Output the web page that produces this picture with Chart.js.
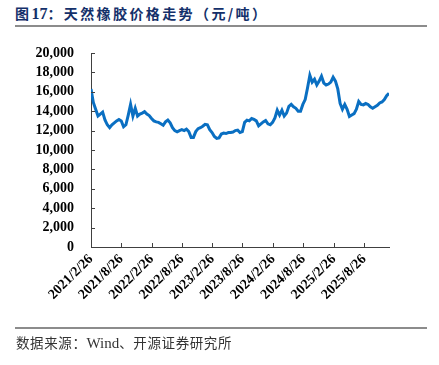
<!DOCTYPE html>
<html><head><meta charset="utf-8">
<script src="https://cdn.jsdelivr.net/npm/chart.js@4"></script>
<style>
html,body{margin:0;padding:0;background:#fff;}
#wrap{position:relative;width:439px;height:365px;overflow:hidden;background:#fff;}
#title{position:absolute;left:15px;top:3px;font-family:"Noto Sans CJK SC";font-weight:bold;font-size:14px;color:#14306a;letter-spacing:2.4px;white-space:nowrap;}
#title .num{font-family:"Liberation Serif";font-size:16px;letter-spacing:0;}
.rule{position:absolute;left:15px;width:412px;height:2px;background:#8c8c8c;}
#src{position:absolute;left:16px;top:332px;font-family:"Noto Sans CJK SC";font-size:13.5px;color:#333;white-space:nowrap;letter-spacing:0.6px;}
#src .lat{font-family:"Liberation Serif";font-size:15px;letter-spacing:0;}
canvas{position:absolute;left:0;top:0;}
</style></head>
<body>
<div id="wrap">
<div id="title">图<span class="num">17</span>：天然橡胶价格走势（元/吨）</div>
<div class="rule" style="top:25px"></div>
<canvas id="c" width="439" height="365"></canvas>
<div class="rule" style="top:327px"></div>
<div id="src">数据来源：<span class="lat">Wind</span>、开源证券研究所</div>
</div>
<script>
const startDate = '2021/2/26';
const stepDays = 14;
const prices = [
16300,14900,14200,13500,13700,13900,13100,12600,12300,12600,
12800,13000,13150,13000,12400,12600,13600,14700,13500,14300,
13500,13700,13800,13950,13700,13550,13250,13000,12900,12850,
12700,12550,12900,13080,12800,12300,12000,11870,12000,12100,
12000,12150,11900,11300,11300,11900,12200,12300,12450,12650,
12600,12100,11800,11400,11200,11250,11650,11750,11700,11800,
11800,11850,12000,12050,11800,11900,12850,13080,13000,13250,
13150,13000,12500,12700,12900,13050,12700,12600,12850,13300,
14100,13600,14100,13500,13800,14500,14700,14450,14300,14000,
14000,14700,15200,16400,17700,17000,17300,16700,17100,17600,
16900,16700,16800,17000,17500,17100,16300,14800,14200,14700,
14200,13450,13600,13750,14200,15000,14700,14650,14800,14700,
14450,14300,14450,14600,14850,14950,15200,15600,15850
];
const tickLabels = ['2021/2/26','2021/8/26','2022/2/26','2022/8/26','2023/2/26','2023/8/26','2024/2/26','2024/8/26','2025/2/26','2025/8/26'];
const yMin = 0, yMax = 20000, yStep = 2000;

function toDays(s){
  const p = s.split('/').map(Number), q = startDate.split('/').map(Number);
  return Math.round((Date.UTC(p[0],p[1]-1,p[2]) - Date.UTC(q[0],q[1]-1,q[2]))/86400000);
}
const tickDays = tickLabels.map(toDays);
const points = prices.map((v,i)=>({x:i*stepDays, y:v}));

const inwardTicks = {
  id:'inwardTicks',
  afterDraw(chart){
    const {ctx, scales:{x,y}} = chart;
    ctx.save(); ctx.strokeStyle='#404040'; ctx.lineWidth=1;
    y.ticks.forEach(t=>{const py=Math.round(y.getPixelForValue(t.value))+0.5; ctx.beginPath(); ctx.moveTo(x.left,py); ctx.lineTo(x.left+4,py); ctx.stroke();});
    x.ticks.forEach(t=>{const px=Math.round(x.getPixelForValue(t.value))+0.5; ctx.beginPath(); ctx.moveTo(px,y.bottom); ctx.lineTo(px,y.bottom-4); ctx.stroke();});
    ctx.restore();
  }
};

new Chart(document.getElementById('c'), {
  type:'line',
  data:{datasets:[{data:points, borderColor:'#0a6fc2', borderWidth:3, pointRadius:0, tension:0, fill:false}]},
  options:{
    responsive:false, animation:false,
    layout:{padding:{top:53,right:50,left:0,bottom:0}},
    plugins:{legend:{display:false}, tooltip:{enabled:false}},
    scales:{
      x:{type:'linear', min:0, max:(prices.length-1)*stepDays,
        afterBuildTicks:s=>{s.ticks = tickDays.map(v=>({value:v}));},
        afterFit:s=>{s.height=118;},
        grid:{display:false, drawTicks:false}, border:{display:true,color:'#404040',width:1},
        ticks:{autoSkip:false, maxRotation:45, minRotation:45, padding:4, color:'#000',
          font:{family:'Liberation Serif', weight:'bold', size:14},
          callback:v=>{const i=tickDays.indexOf(v); return i>=0?tickLabels[i]:null;}}
      },
      y:{min:yMin, max:yMax,
        afterFit:s=>{s.width=91;},
        grid:{display:false, drawTicks:false}, border:{display:true,color:'#404040',width:1},
        ticks:{stepSize:yStep, autoSkip:false, padding:17, color:'#000',
          font:{family:'Liberation Serif', weight:'bold', size:14},
          callback:v=>v.toLocaleString('en-US')}
      }
    }
  },
  plugins:[inwardTicks]
});
</script>
</body></html>
